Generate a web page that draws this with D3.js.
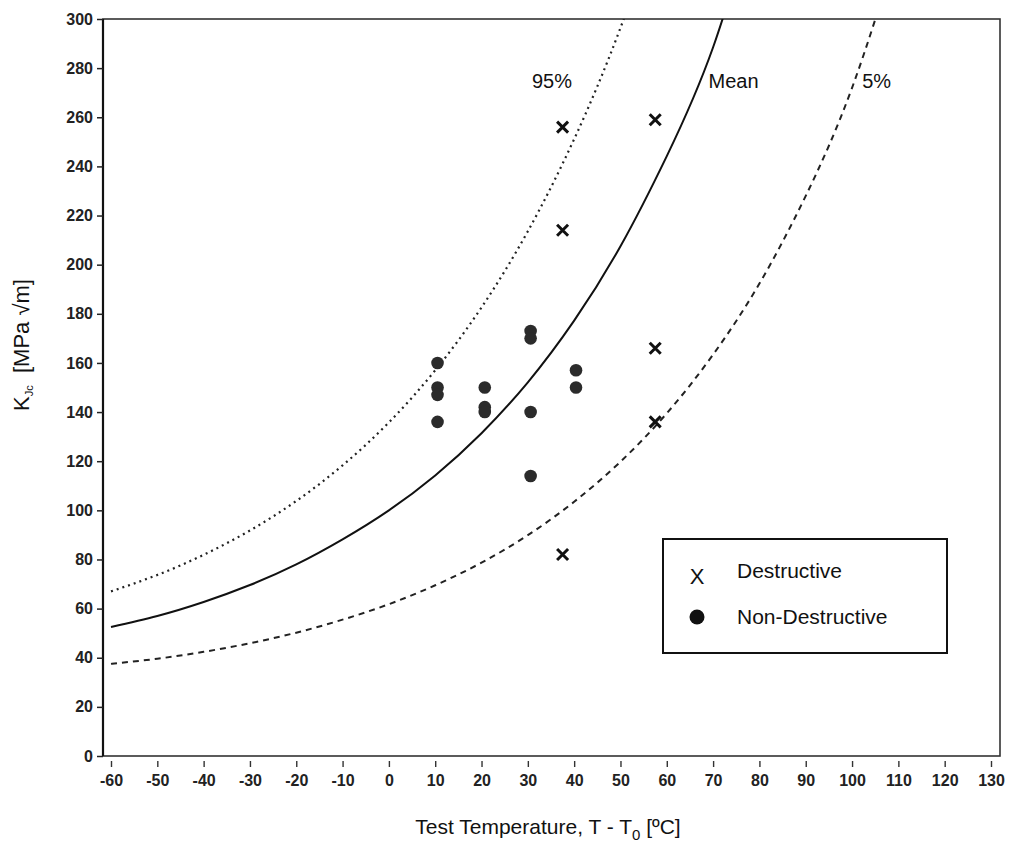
<!DOCTYPE html>
<html>
<head>
<meta charset="utf-8">
<script src="https://cdn.jsdelivr.net/npm/d3@7"></script>
<style>
  body { margin: 0; background: #fff; }
  svg { display: block; }
  text { font-family: "Liberation Sans", Arial, sans-serif; }
</style>
</head>
<body>
<div id="chart"></div>
<script>
// curves, K_Jc at each temperature (last point runs past the top)
const temps = [-60, -50, -40, -30, -20, -10, 0, 10, 20, 30, 40, 50, 60, 70, 80, 90, 100, 110];
const meanK = [52.5, 57, 62.7, 69.6, 78, 88.2, 100, 114.2, 131.4, 152.1, 177.2, 207.5, 244.2, 288.5, 350];
const p95K = [67, 73.7, 81.9, 91.8, 103.8, 118.3, 135.8, 157, 182.6, 213.6, 251.1, 296.4, 351];
const p05K = [37.5, 39.6, 42.4, 45.9, 50.2, 55.5, 61.8, 69.5, 78.7, 89.9, 103.5, 119.8, 139.5, 163.4, 192.3, 228, 272, 330];

// test results
const destT = [37.5, 37.5, 37.5, 57.5, 57.5, 57.5];
const destK = [256, 214, 82, 259, 166, 136];
const nondT = [10.5, 10.5, 10.5, 10.5, 20.7, 20.7, 20.7, 30.6, 30.6, 30.6, 30.6, 40.4, 40.4];
const nondK = [160, 150, 147, 136, 150, 142, 140, 173, 170, 140, 114, 157, 150];

const xTicks = d3.range(-60, 131, 10);
const yTicks = d3.range(0, 301, 20);

const W = 1009, H = 843;
const svg = d3.select('#chart').append('svg')
  .attr('width', W).attr('height', H);

const x = d3.scaleLinear().domain([-60, 130]).range([111, 991]);
const y = d3.scaleLinear().domain([0, 300]).range([756, 19]);
const frame = { left: 103, right: 1000, top: 19, bottom: 756 };

svg.append('defs').append('clipPath').attr('id', 'plot')
  .append('rect')
  .attr('x', frame.left).attr('y', frame.top)
  .attr('width', frame.right - frame.left).attr('height', frame.bottom - frame.top);

// frame
svg.append('rect')
  .attr('x', frame.left).attr('y', frame.top)
  .attr('width', frame.right - frame.left).attr('height', frame.bottom - frame.top)
  .attr('fill', 'none').attr('stroke', '#333').attr('stroke-width', 1.6);
svg.append('line')
  .attr('x1', frame.left).attr('x2', frame.left)
  .attr('y1', frame.top).attr('y2', frame.bottom)
  .attr('stroke', '#111').attr('stroke-width', 2.2);

// y axis
const yAxis = svg.append('g')
  .attr('transform', `translate(${frame.left},0)`)
  .call(d3.axisLeft(y).tickValues(yTicks).tickFormat(d => String(d)).tickSize(6).tickPadding(4));
yAxis.select('.domain').remove();
yAxis.selectAll('line').attr('stroke', '#222').attr('stroke-width', 1.5);
yAxis.selectAll('text')
  .attr('font-size', 16).attr('font-weight', 'bold').attr('fill', '#222')
  .style('font-family', '"Liberation Sans", Arial, sans-serif');

// x axis, ticks sit a little below the frame
const xAxis = svg.append('g')
  .attr('transform', `translate(0,${frame.bottom + 5})`)
  .call(d3.axisBottom(x).tickValues(xTicks).tickFormat(d => String(d)).tickSize(6).tickPadding(8));
xAxis.select('.domain').remove();
xAxis.selectAll('line').attr('stroke', '#333').attr('stroke-width', 1.4);
xAxis.selectAll('text')
  .attr('font-size', 16).attr('font-weight', 'bold').attr('fill', '#222')
  .style('font-family', '"Liberation Sans", Arial, sans-serif');

// curves
const line = d3.line()
  .x(d => x(d[0])).y(d => y(d[1]))
  .curve(d3.curveNatural);

const mk = vals => vals.map((v, i) => [temps[i], v]);

const curves = svg.append('g').attr('clip-path', 'url(#plot)');
curves.append('path')
  .datum(mk(p95K))
  .attr('d', line).attr('fill', 'none')
  .attr('stroke', '#222').attr('stroke-width', 2.2)
  .attr('stroke-dasharray', '2,4');
curves.append('path')
  .datum(mk(meanK))
  .attr('d', line).attr('fill', 'none')
  .attr('stroke', '#111').attr('stroke-width', 2);
curves.append('path')
  .datum(mk(p05K))
  .attr('d', line).attr('fill', 'none')
  .attr('stroke', '#222').attr('stroke-width', 2)
  .attr('stroke-dasharray', '6,5');

// curve labels
const curveLabel = (t, k, txt) => svg.append('text')
  .attr('x', x(t)).attr('y', y(k))
  .attr('font-size', 20).attr('fill', '#111').text(txt);
curveLabel(30.9, 272, '95%');
curveLabel(69, 272, 'Mean');
curveLabel(102.2, 272, '5%');

// non-destructive points
svg.append('g').selectAll('circle')
  .data(nondT.map((t, i) => [t, nondK[i]]))
  .join('circle')
  .attr('cx', d => x(d[0])).attr('cy', d => y(d[1]))
  .attr('r', 6.3).attr('fill', '#2b2b2b');

// destructive points
const xs = 5.5;
svg.append('g').selectAll('path')
  .data(destT.map((t, i) => [t, destK[i]]))
  .join('path')
  .attr('d', d => {
    const cx = x(d[0]), cy = y(d[1]);
    return `M${cx - xs},${cy - xs}L${cx + xs},${cy + xs}M${cx + xs},${cy - xs}L${cx - xs},${cy + xs}`;
  })
  .attr('stroke', '#111').attr('stroke-width', 3).attr('fill', 'none');

// legend
const lg = svg.append('g');
lg.append('rect')
  .attr('x', 663).attr('y', 539).attr('width', 284).attr('height', 114)
  .attr('fill', '#fff').attr('stroke', '#111').attr('stroke-width', 2);
lg.append('text').attr('x', 697).attr('y', 584)
  .attr('text-anchor', 'middle').attr('font-size', 22).attr('fill', '#111').text('X');
lg.append('circle').attr('cx', 697).attr('cy', 617).attr('r', 7.5).attr('fill', '#111');
lg.append('text').attr('x', 737).attr('y', 578)
  .attr('font-size', 21).attr('fill', '#111').text('Destructive');
lg.append('text').attr('x', 737).attr('y', 624)
  .attr('font-size', 21).attr('fill', '#111').text('Non-Destructive');

// axis titles
const xt = svg.append('text')
  .attr('x', 548).attr('y', 834)
  .attr('text-anchor', 'middle').attr('font-size', 21).attr('fill', '#111');
xt.append('tspan').text('Test Temperature, T - T');
xt.append('tspan').attr('font-size', 15).attr('dy', 6).text('0');
xt.append('tspan').attr('dy', -6).text(' [ºC]');

const yt = svg.append('text')
  .attr('transform', 'translate(29,345) rotate(-90)')
  .attr('text-anchor', 'middle').attr('font-size', 22).attr('fill', '#111');
yt.append('tspan').text('K');
yt.append('tspan').attr('font-size', 11).attr('dy', 4).text('Jc');
yt.append('tspan').attr('dy', -4).attr('xml:space', 'preserve').text('  [MPa √m]');
</script>
</body>
</html>
